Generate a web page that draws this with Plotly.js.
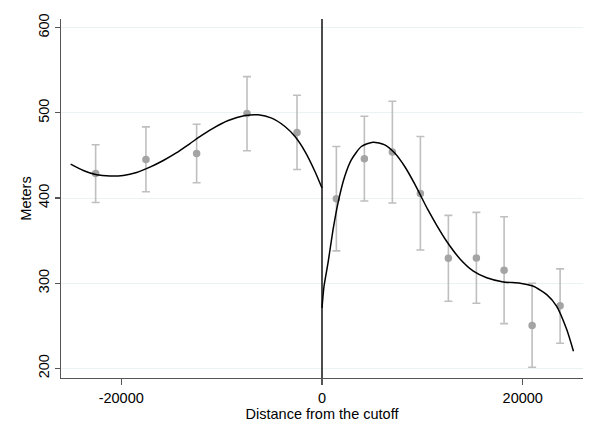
<!DOCTYPE html>
<html>
<head>
<meta charset="utf-8">
<script src="https://cdn.plot.ly/plotly-3.0.1.min.js"></script>
<style>html,body{margin:0;padding:0;background:#fff;}#chart{width:596px;height:436px;}</style>
</head>
<body>
<div id="chart"></div>
<script>
// Binned means with confidence intervals
const binX = [-22550, -17540, -12490, -7470, -2490, 1430, 4220, 7010, 9800, 12590, 15380, 18140, 20930, 23720];
const binMean = [428.8, 445.3, 452.3, 499.2, 476.9, 399.2, 446.1, 453.9, 405.4, 329.2, 329.7, 315.1, 250.3, 273.4];
const binLow = [394.8, 407.4, 418.0, 455.5, 433.5, 337.9, 396.5, 394.1, 339.0, 278.8, 276.4, 252.6, 201.4, 229.5];
const binHigh = [462.5, 483.6, 486.7, 542.6, 520.7, 460.5, 496.1, 513.7, 472.2, 379.6, 383.2, 378.1, 299.9, 316.8];

// Fitted polynomial, left of cutoff
const fitLeftX = [-25040, -23780, -22450, -21130, -19800, -18470, -17140, -15810, -14480, -13150, -11990, -10990, -9340, -7670, -6350, -5010, -3690, -2690, -1690, -700, 0];
const fitLeftY = [439.9, 432.4, 427.3, 425.8, 426.5, 430.0, 436.3, 444.1, 453.3, 464.0, 473.5, 481.0, 491.0, 496.8, 497.7, 493.8, 484.0, 472.2, 454.6, 431.2, 411.7];

// Fitted polynomial, right of cutoff
const fitRightX = [0, 200, 600, 1100, 1590, 2260, 2920, 3920, 5080, 6250, 7240, 8240, 9230, 10560, 11430, 12430, 13750, 15080, 16410, 18070, 19730, 21060, 22390, 23380, 24380, 25050];
const fitRightY = [271.0, 296.4, 323.8, 362.8, 394.1, 425.3, 444.9, 460.5, 465.6, 462.5, 452.8, 437.0, 416.6, 386.0, 368.0, 349.0, 328.5, 314.2, 306.4, 301.5, 300.0, 296.4, 286.6, 272.9, 245.6, 220.2];

const cutoff = 0;
const xTicks = [-20000, 0, 20000];
const yTicks = [200, 300, 400, 500, 600];

const errPlus = binHigh.map((h, i) => h - binMean[i]);
const errMinus = binLow.map((l, i) => binMean[i] - l);

const font = "'Liberation Sans', Arial, Helvetica, sans-serif";

const traces = [
  {
    x: binX, y: binMean, type: 'scatter', mode: 'markers',
    marker: {color: '#a4a4a4', size: 7.5},
    error_y: {type: 'data', symmetric: false, array: errPlus, arrayminus: errMinus,
              color: '#bfbfbf', thickness: 1.6, width: 4},
    hoverinfo: 'skip', showlegend: false, cliponaxis: false
  },
  {
    x: fitLeftX, y: fitLeftY, type: 'scatter', mode: 'lines',
    line: {color: '#000', width: 1.5, shape: 'spline', smoothing: 0.6},
    showlegend: false, hoverinfo: 'skip'
  },
  {
    x: fitRightX, y: fitRightY, type: 'scatter', mode: 'lines',
    line: {color: '#000', width: 1.5, shape: 'spline', smoothing: 0.6},
    showlegend: false, hoverinfo: 'skip'
  }
];

const layout = {
  width: 596, height: 436,
  margin: {l: 61, r: 12.7, t: 19, b: 57.7, pad: 0},
  paper_bgcolor: '#ffffff', plot_bgcolor: '#ffffff',
  font: {family: font, size: 14.5, color: '#000'},
  xaxis: {
    range: [-26000, 26000], tickvals: xTicks, ticktext: xTicks.map(String),
    showgrid: false, zeroline: false, showline: true, linecolor: '#555', linewidth: 1.3,
    ticks: 'outside', ticklen: 6, tickcolor: '#555', tickwidth: 1.2,
    tickfont: {family: font, size: 14.5, color: '#000'},
    title: {text: 'Distance from the cutoff', font: {family: font, size: 14.5, color: '#000'}, standoff: 4}
  },
  yaxis: {
    range: [188.7, 610.2], tickvals: yTicks, ticktext: yTicks.map(String),
    showgrid: true, gridcolor: '#eaf2f3', gridwidth: 1,
    zeroline: false, showline: true, linecolor: '#555', linewidth: 1.3,
    ticks: 'outside', ticklen: 5, tickcolor: '#555', tickwidth: 1.2, tickangle: -90,
    tickfont: {family: font, size: 14.5, color: '#000'},
    title: {text: 'Meters', font: {family: font, size: 14.5, color: '#000'}, standoff: 0}
  },
  shapes: [
    {type: 'line', xref: 'x', yref: 'paper', x0: cutoff, x1: cutoff, y0: 0, y1: 1,
     line: {color: '#000', width: 1.4}}
  ]
};

Plotly.newPlot('chart', traces, layout, {staticPlot: true, displayModeBar: false});
</script>
</body>
</html>
